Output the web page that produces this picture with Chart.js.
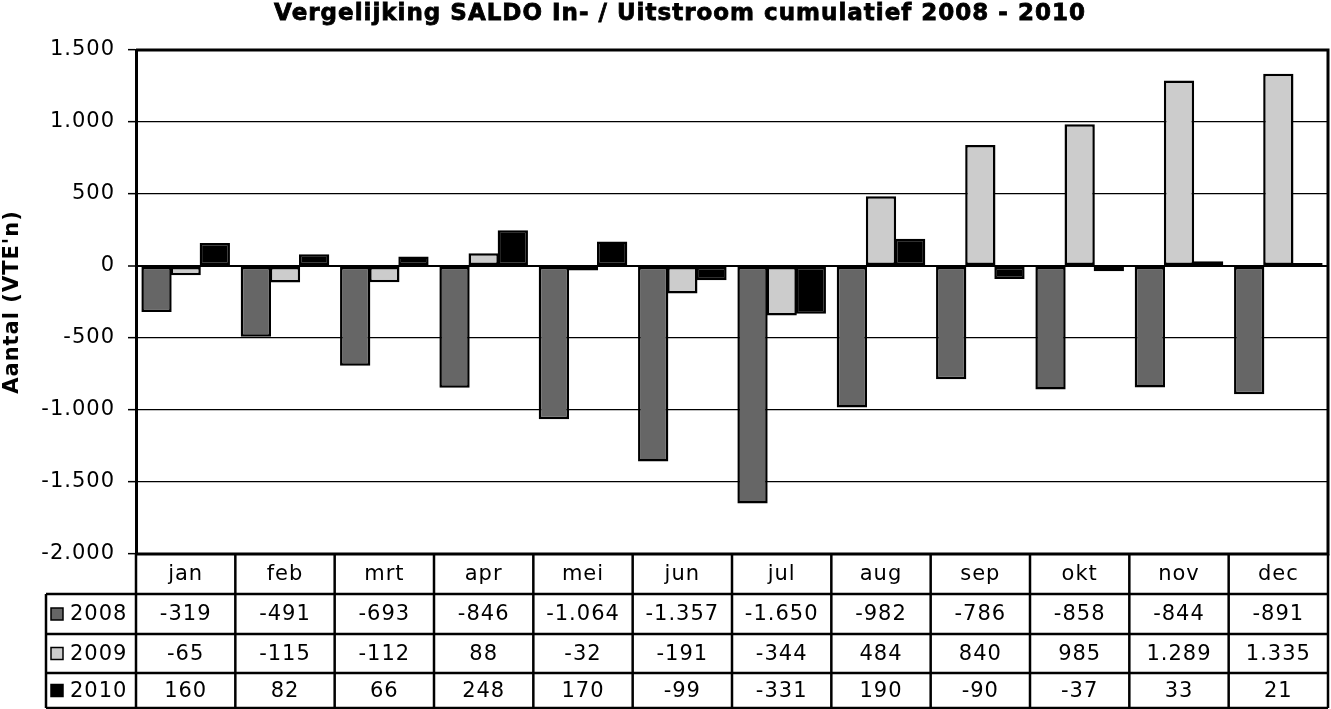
<!DOCTYPE html>
<html><head><meta charset="utf-8">
<script src="https://cdn.jsdelivr.net/npm/chart.js@4.4.1/dist/chart.umd.min.js"></script>
<style>html,body{margin:0;padding:0;background:#fff}#wrap{width:1331px;height:709px}</style>
</head><body><div id="wrap"><canvas id="c" width="1331" height="709"></canvas></div>
<script>
const titleText = "Vergelijking SALDO In- / Uitstroom cumulatief 2008 - 2010";
const yAxisTitle = "Aantal (VTE'n)";
const months = ["jan","feb","mrt","apr","mei","jun","jul","aug","sep","okt","nov","dec"];
const seriesNames = ["2008","2009","2010"];
const values2008 = [-319,-491,-693,-846,-1064,-1357,-1650,-982,-786,-858,-844,-891];
const values2009 = [-65,-115,-112,88,-32,-191,-344,484,840,985,1289,1335];
const values2010 = [160,82,66,248,170,-99,-331,190,-90,-37,33,21];
const seriesColors = ["#666666","#cccccc","#000000"];
const yMin = -2000, yMax = 1500, yStep = 500;

function fmt(v){
  const neg = v < 0; let s = String(Math.abs(v));
  s = s.replace(/\B(?=(\d{3})+(?!\d))/g, ".");
  return (neg ? "-" : "") + s;
}
const FONT = "'DejaVu Sans', Verdana, sans-serif";
const allSeries = [values2008, values2009, values2010];

const spacingPlugin = {
  id: 'spacing',
  beforeInit(chart){ chart.ctx.letterSpacing = '1px'; },
  beforeLayout(chart){ chart.ctx.letterSpacing = '1px'; },
  beforeDraw(chart){ chart.ctx.letterSpacing = '1px'; }
};

const tablePlugin = {
  id: 'tablePlugin',
  afterDraw(chart){
    const ctx = chart.ctx, ca = chart.chartArea, xs = chart.scales.x;
    const n = months.length, cw = (ca.right - ca.left) / n;
    ctx.save();
    ctx.letterSpacing = '1px';
    // title
    ctx.fillStyle = '#000';
    ctx.strokeStyle = '#000';
    ctx.lineWidth = 0.8;
    ctx.font = "bold 23px " + FONT;
    ctx.textAlign = 'center'; ctx.textBaseline = 'middle';
    ctx.fillText(titleText, 680, 14);
    ctx.strokeText(titleText, 680, 14);
    // plot border top/right/bottom
    ctx.lineWidth = 3;
    ctx.beginPath();
    ctx.moveTo(ca.left, ca.top); ctx.lineTo(ca.right, ca.top); ctx.lineTo(ca.right, ca.bottom); ctx.lineTo(ca.left, ca.bottom);
    ctx.stroke();
    // table
    const rowTops = [ca.bottom, ca.bottom + 40, ca.bottom + 80, ca.bottom + 119, ca.bottom + 154];
    const legendLeft = 46;
    ctx.lineWidth = 2.5;
    ctx.beginPath();
    for (let r = 1; r < rowTops.length; r++) {
      ctx.moveTo(legendLeft, rowTops[r]);
      ctx.lineTo(ca.right, rowTops[r]);
    }
    for (let i = 0; i <= n; i++) {
      const x = ca.left + i * cw;
      ctx.moveTo(x, rowTops[0]); ctx.lineTo(x, rowTops[4]);
    }
    ctx.moveTo(legendLeft, rowTops[1]); ctx.lineTo(legendLeft, rowTops[4]);
    ctx.stroke();
    ctx.font = "21px " + FONT;
    ctx.textAlign = 'center'; ctx.textBaseline = 'middle';
    for (let i = 0; i < n; i++) {
      const x = xs.getPixelForValue(i);
      ctx.fillText(months[i], x, (rowTops[0] + rowTops[1]) / 2 + 1);
      for (let s = 0; s < 3; s++) {
        ctx.fillText(fmt(allSeries[s][i]), x, (rowTops[s + 1] + rowTops[s + 2]) / 2 + 1);
      }
    }
    for (let s = 0; s < 3; s++) {
      const cy = (rowTops[s + 1] + rowTops[s + 2]) / 2;
      ctx.fillStyle = seriesColors[s];
      ctx.fillRect(51, cy - 6, 12, 12);
      ctx.strokeStyle = '#000'; ctx.lineWidth = 1.5;
      ctx.strokeRect(51, cy - 6, 12, 12);
      ctx.fillStyle = '#000';
      ctx.textAlign = 'left';
      ctx.fillText(seriesNames[s], 70, cy + 1);
      ctx.textAlign = 'center';
    }
    ctx.restore();
  }
};

new Chart(document.getElementById('c'), {
  type: 'bar',
  data: {
    labels: months,
    datasets: seriesNames.map((nm, i) => ({
      label: nm, data: allSeries[i], backgroundColor: seriesColors[i],
      borderColor: '#000', borderWidth: 2.5, borderSkipped: false,
      categoryPercentage: 0.88, barPercentage: 1.04
    }))
  },
  options: {
    responsive: false, animation: false,
    layout: { padding: { top: 50, bottom: 155, right: 3, left: 0 } },
    plugins: { legend: { display: false }, title: { display: false }, tooltip: { enabled: false } },
    scales: {
      x: { display: false, offset: true },
      y: {
        min: yMin, max: yMax,
        afterFit(scale){ scale.width = 136; },
        ticks: { stepSize: yStep, color: '#000', font: { family: FONT, size: 21 }, padding: 13,
          callback: v => fmt(v) },
        grid: { color: '#000', lineWidth: ctx => (ctx.tick && ctx.tick.value === 0 ? 2 : 1.3), tickLength: 8, tickColor: '#000', tickWidth: 1.5 },
        border: { display: true, color: '#000', width: 3 },
        title: { display: true, text: yAxisTitle, color: '#000', font: { family: FONT, size: 21, weight: 'bold' }, padding: { top: 0, bottom: 0 } }
      }
    }
  },
  plugins: [spacingPlugin, tablePlugin]
});
</script>
</body></html>
